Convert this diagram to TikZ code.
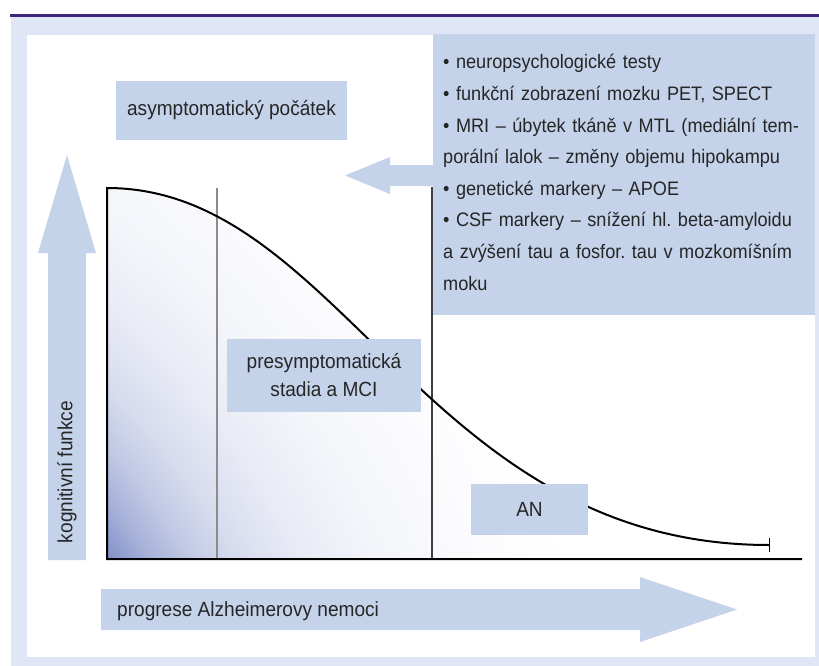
\documentclass[tikz,border=0pt]{standalone}
\usepackage{fontspec}
\setmainfont{Liberation Sans}
\newfontfamily\figfont{Liberation Sans}[FakeStretch=0.93]
\newcommand\tightspace{\spaceskip=3.6pt plus 1pt minus 1pt\relax}
\usetikzlibrary{arrows.meta}
\definecolor{boxblue}{RGB}{196,210,234}
\definecolor{framebg}{RGB}{224,230,245}
\definecolor{bandpurple}{RGB}{62,38,126}
\definecolor{gradblue}{RGB}{128,143,200}
\pgfdeclareradialshading{cornerfade}{\pgfpoint{0bp}{0bp}}{color(0bp)=(gradblue); color(12.5bp)=(gradblue); color(13.23bp)=(gradblue!70!white); color(13.96bp)=(gradblue!49!white); color(14.83bp)=(gradblue!32!white); color(16bp)=(gradblue!18!white); color(17.46bp)=(gradblue!9!white); color(19.5bp)=(gradblue!3!white); color(21.25bp)=(white); color(50bp)=(white)}

\begin{document}
\begin{tikzpicture}[x=1pt,y=-1pt]
    \tikzset{stagebox/.style = {fill=boxblue,inner sep=0pt,text=black!85,font=\figfont\fontsize{20.5}{28}\selectfont\frenchspacing}}
    \tikzset{plain/.style = {inner sep=0pt,text=black!85,font=\figfont\fontsize{20.5}{28}\selectfont\frenchspacing}}
    \useasboundingbox (0,0) rectangle (819,666);
    % frame
    \fill[bandpurple] (10,14) rectangle (819,17);
    \fill[framebg] (11,17) rectangle (819,666);
    \fill[white] (27,35) rectangle (815,657);
    % big arrows
    \fill[boxblue] (48,560) -- (48,253) -- (38,253) -- (67,155) -- (96,253) -- (86,253) -- (86,560) -- cycle;
    \fill[boxblue] (101,589) -- (640,589) -- (640,577) -- (737,609.5) -- (640,642) -- (640,630) -- (101,630) -- cycle;
    \fill[boxblue] (434,165) -- (390,165) -- (390,157) -- (345,175.5) -- (390,194) -- (390,186) -- (434,186) -- cycle;
    % shading under the curve
    \begin{scope}
    \clip (107,188) .. controls (341,188) and (425,545) .. (770,545) -- (770,559) -- (107,559) -- cycle;
    \shade[shading=cornerfade] (-391,895) circle (1200pt);
    \end{scope}
    % stage borders
    \draw[black!45, line width=1.6pt] (217,188) -- (217,559);
    \draw[black!75, line width=1.2pt] (432,187) -- (432,559);
    % axes and curve
    \draw[line width=2pt, line join=miter, -{Bar[width=14pt,line width=1.4pt]}]
        (802,559) -- (107,559) -- (107,188) .. controls (341,188) and (425,545) .. (770,545);
    % labels
    \node[stagebox, minimum width=231, minimum height=59] (onset) at (231.5,110.5) {asymptomatický počátek};
    \node[stagebox, minimum width=194, minimum height=73, align=center] (mci) at (324,375.5) {presymptomatická\\stadia a MCI};
    \node[stagebox, minimum width=117, minimum height=51] (an) at (529.5,509.5) {AN};
    \node[stagebox, anchor=north west, minimum width=382, minimum height=281] (tests) at (433,34) {};
    \node[plain, anchor=base west, text width=420, align=left,
          font=\figfont\fontsize{19.5}{31.6}\selectfont\frenchspacing\tightspace] (testlist) at (443,69)
        {• neuropsychologické testy\\
         • funkční zobrazení mozku PET, SPECT\\
         • MRI – úbytek tkáně v MTL (mediální tem-\\
         porální lalok – změny objemu hipokampu\\
         • genetické markery – APOE\\
         • CSF markery – snížení hl. beta-amyloidu\\
         a zvýšení tau a fosfor. tau v mozkomíšním\\
         moku};
    \node[plain, rotate=90] (cog) at (67,472) {kognitivní funkce};
    \node[plain, anchor=west] (prog) at (117,611) {progrese Alzheimerovy nemoci};
\end{tikzpicture}
\end{document}
